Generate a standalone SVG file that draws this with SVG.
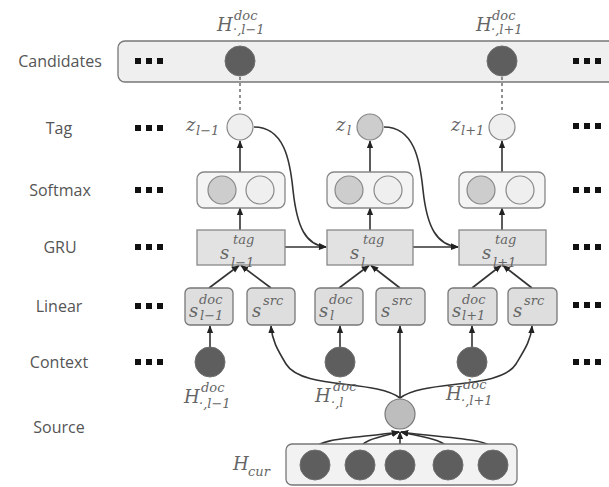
<svg xmlns="http://www.w3.org/2000/svg" width="609" height="487" viewBox="0 0 609 487">
<style>
.lbl{font-family:"Open Sans","Liberation Sans",sans-serif;font-size:16px;fill:#555;text-anchor:middle;dominant-baseline:central}
.m{font-family:"DejaVu Serif","Liberation Serif",serif;font-style:italic;fill:#666}
.big{font-size:18px}
.mid{font-size:18px}
.sm{font-size:13px}
.edge{fill:none;stroke:#333;stroke-width:1.6}
.dash{fill:none;stroke:#555;stroke-width:1.3;stroke-dasharray:3 3}
.dark{fill:#5e5e5e;stroke:#6e6e6e;stroke-width:1}
.box{fill:#dedede;stroke:#777;stroke-width:1.3}
.gru{fill:#e2e2e2;stroke:#888;stroke-width:1.3}
.soft{fill:#f4f4f4;stroke:#888;stroke-width:1.3}
.cg{fill:#cdcdcd;stroke:#888;stroke-width:1.2}
.cl{fill:#efefef;stroke:#888;stroke-width:1.2}
</style>
<defs>
<marker id="ah" viewBox="0 0 10 10" refX="9" refY="5" markerWidth="5" markerHeight="5" orient="auto-start-reverse">
<path d="M0,1 L10,5 L0,9 z" fill="#222"/>
</marker>
<g id="dots"><rect x="0" y="-3" width="6" height="6" fill="#111"/><rect x="11" y="-3" width="6" height="6" fill="#111"/><rect x="22" y="-3" width="6" height="6" fill="#111"/></g>
</defs>

<!-- row labels -->
<g id="row-labels">
<text class="lbl" x="60" y="61">Candidates</text>
<text class="lbl" x="59" y="128">Tag</text>
<text class="lbl" x="60" y="190">Softmax</text>
<text class="lbl" x="60" y="247">GRU</text>
<text class="lbl" x="59" y="306">Linear</text>
<text class="lbl" x="59" y="362">Context</text>
<text class="lbl" x="59" y="427">Source</text>
</g>

<!-- candidates -->
<g id="candidates">
<rect x="118" y="41" width="510" height="41" rx="7" fill="#efefef" stroke="#777" stroke-width="1.3"/>
<use href="#dots" x="135" y="61"/>
<use href="#dots" x="573" y="61"/>
<circle class="dark" cx="240" cy="61" r="15"/>
<circle class="dark" cx="502" cy="61" r="15"/>
<text class="m big" x="217" y="31">H</text><text class="m sm" x="234" y="20">doc</text><text class="m sm" x="233" y="34">·,l−1</text>
<text class="m big" x="476" y="31">H</text><text class="m sm" x="492" y="20">doc</text><text class="m sm" x="491" y="34">·,l+1</text>
</g>

<!-- side dots -->
<g id="side-dots">
<use href="#dots" x="135" y="128"/><use href="#dots" x="573" y="126"/>
<use href="#dots" x="135" y="190"/><use href="#dots" x="573" y="190"/>
<use href="#dots" x="135" y="247"/><use href="#dots" x="573" y="247"/>
<use href="#dots" x="135" y="306"/><use href="#dots" x="573" y="305"/>
<use href="#dots" x="135" y="362"/><use href="#dots" x="573" y="362"/>
</g>

<!-- connectors -->
<g id="connectors">
<line class="dash" x1="240" y1="77" x2="240" y2="113"/>
<line class="dash" x1="502" y1="77" x2="502" y2="113"/>
<line class="edge" x1="240" y1="172" x2="240" y2="141" marker-end="url(#ah)"/>
<line class="edge" x1="370" y1="172" x2="370" y2="141" marker-end="url(#ah)"/>
<line class="edge" x1="502" y1="172" x2="502" y2="141" marker-end="url(#ah)"/>
<line class="edge" x1="240" y1="230" x2="240" y2="208" marker-end="url(#ah)"/>
<line class="edge" x1="370" y1="230" x2="370" y2="208" marker-end="url(#ah)"/>
<line class="edge" x1="502" y1="230" x2="502" y2="208" marker-end="url(#ah)"/>
<line class="edge" x1="285" y1="247" x2="326" y2="247" marker-end="url(#ah)"/>
<line class="edge" x1="413" y1="247" x2="458" y2="247" marker-end="url(#ah)"/>
<path class="edge" d="M254,127 C284,127 290,160 293,190 C297,228 306,245 326,247" marker-end="url(#ah)"/>
<path class="edge" d="M384,127 C414,127 420,160 423,190 C427,228 437,245 458,247" marker-end="url(#ah)"/>
<line class="edge" x1="209" y1="288" x2="239" y2="265.5" marker-end="url(#ah)"/>
<line class="edge" x1="271" y1="288" x2="241" y2="265.5" marker-end="url(#ah)"/>
<line class="edge" x1="339" y1="288" x2="369" y2="265.5" marker-end="url(#ah)"/>
<line class="edge" x1="400" y1="288" x2="371" y2="265.5" marker-end="url(#ah)"/>
<line class="edge" x1="472" y1="288" x2="501" y2="265.5" marker-end="url(#ah)"/>
<line class="edge" x1="532" y1="288" x2="503" y2="265.5" marker-end="url(#ah)"/>
<line class="edge" x1="210" y1="347" x2="210" y2="326" marker-end="url(#ah)"/>
<line class="edge" x1="340" y1="347" x2="340" y2="326" marker-end="url(#ah)"/>
<line class="edge" x1="472" y1="347" x2="472" y2="326" marker-end="url(#ah)"/>
<line class="edge" x1="400" y1="398" x2="400" y2="326" marker-end="url(#ah)"/>
<path class="edge" d="M400,398 C375,379 302,390 286,364 C277,349 272,340 271,326" marker-end="url(#ah)"/>
<path class="edge" d="M400,398 C425,379 500,390 516,364 C525,349 531,340 532,326" marker-end="url(#ah)"/>
<path class="edge" d="M315,450 C315,438 360,438 399,432" marker-end="url(#ah)"/>
<path class="edge" d="M360,450 C360,440 380,437 399,432" marker-end="url(#ah)"/>
<line class="edge" x1="400" y1="450" x2="400" y2="432" marker-end="url(#ah)"/>
<path class="edge" d="M448,450 C448,440 422,437 401,432" marker-end="url(#ah)"/>
<path class="edge" d="M493,450 C493,438 440,438 401,432" marker-end="url(#ah)"/>
</g>

<!-- tag nodes -->
<g id="tag-l-1">
<circle class="cl" cx="240" cy="127" r="13"/>
<text class="m mid" x="186" y="131">z</text><text class="m sm" x="196" y="135">l−1</text>
</g>
<g id="tag-l">
<circle class="cg" cx="370" cy="127" r="13"/>
<text class="m mid" x="336" y="131">z</text><text class="m sm" x="347" y="135">l</text>
</g>
<g id="tag-l+1">
<circle class="cl" cx="502" cy="127" r="13"/>
<text class="m mid" x="451" y="131">z</text><text class="m sm" x="461" y="135">l+1</text>
</g>

<!-- softmax nodes -->
<g id="softmax-l-1">
<rect class="soft" x="197" y="172" width="88" height="36" rx="7"/>
<circle class="cg" cx="222" cy="190" r="14"/><circle class="cl" cx="260" cy="190" r="14"/>
</g>
<g id="softmax-l">
<rect class="soft" x="327" y="172" width="86" height="36" rx="7"/>
<circle class="cg" cx="349" cy="190" r="14"/><circle class="cl" cx="388" cy="190" r="14"/>
</g>
<g id="softmax-l+1">
<rect class="soft" x="459" y="172" width="86" height="36" rx="7"/>
<circle class="cg" cx="481" cy="190" r="14"/><circle class="cl" cx="520" cy="190" r="14"/>
</g>

<!-- GRU nodes -->
<g id="gru-l-1">
<rect class="gru" x="197" y="230" width="88" height="35"/>
<text class="m mid" x="220" y="259">s</text><text class="m sm" x="233" y="244">tag</text><text class="m sm" x="231" y="267">l−1</text>
</g>
<g id="gru-l">
<rect class="gru" x="327" y="230" width="86" height="35"/>
<text class="m mid" x="350" y="259">s</text><text class="m sm" x="363" y="244">tag</text><text class="m sm" x="361" y="267">l</text>
</g>
<g id="gru-l+1">
<rect class="gru" x="459" y="230" width="87" height="35"/>
<text class="m mid" x="482" y="259">s</text><text class="m sm" x="495" y="244">tag</text><text class="m sm" x="493" y="267">l+1</text>
</g>

<!-- linear nodes -->
<g id="lin-doc-l-1">
<rect class="box" x="185" y="288" width="48" height="37" rx="5"/>
<text class="m mid" x="189" y="317">s</text><text class="m sm" x="199" y="304">doc</text><text class="m sm" x="200" y="320">l−1</text>
</g>
<g id="lin-src-l-1">
<rect class="box" x="247" y="288" width="48" height="37" rx="5"/>
<text class="m mid" x="252" y="317">s</text><text class="m sm" x="263" y="305">src</text>
</g>
<g id="lin-doc-l">
<rect class="box" x="315" y="288" width="48" height="37" rx="5"/>
<text class="m mid" x="319" y="317">s</text><text class="m sm" x="329" y="304">doc</text><text class="m sm" x="330" y="320">l</text>
</g>
<g id="lin-src-l">
<rect class="box" x="376" y="288" width="49" height="37" rx="5"/>
<text class="m mid" x="381" y="317">s</text><text class="m sm" x="392" y="305">src</text>
</g>
<g id="lin-doc-l+1">
<rect class="box" x="448" y="288" width="49" height="37" rx="5"/>
<text class="m mid" x="452" y="317">s</text><text class="m sm" x="462" y="304">doc</text><text class="m sm" x="462" y="320">l+1</text>
</g>
<g id="lin-src-l+1">
<rect class="box" x="508" y="288" width="49" height="37" rx="5"/>
<text class="m mid" x="513" y="317">s</text><text class="m sm" x="524" y="305">src</text>
</g>

<!-- context nodes -->
<g id="ctx-l-1">
<circle class="dark" cx="210" cy="362" r="15"/>
<text class="m big" x="184" y="403">H</text><text class="m sm" x="201" y="392">doc</text><text class="m sm" x="199" y="408">·,l−1</text>
</g>
<g id="ctx-l">
<circle class="dark" cx="340" cy="362" r="15"/>
<text class="m big" x="315" y="402">H</text><text class="m sm" x="333" y="391">doc</text><text class="m sm" x="331" y="407">·,l</text>
</g>
<g id="ctx-l+1">
<circle class="dark" cx="472" cy="362" r="15"/>
<text class="m big" x="446" y="400">H</text><text class="m sm" x="463" y="389">doc</text><text class="m sm" x="461" y="405">·,l+1</text>
</g>

<!-- source -->
<g id="source">
<circle cx="400" cy="414" r="15" fill="#bdbdbd" stroke="#777" stroke-width="1.2"/>
</g>

<!-- H_cur -->
<g id="hcur">
<rect x="286" y="444" width="231" height="41" rx="6" fill="#f2f2f2" stroke="#777" stroke-width="1.3"/>
<circle class="dark" cx="315" cy="465" r="15"/>
<circle class="dark" cx="360" cy="465" r="15"/>
<circle class="dark" cx="400" cy="465" r="15"/>
<circle class="dark" cx="448" cy="465" r="15"/>
<circle class="dark" cx="493" cy="465" r="15"/>
<text class="m big" x="233" y="470">H</text><text class="m sm" x="248" y="476">cur</text>
</g>
</svg>
